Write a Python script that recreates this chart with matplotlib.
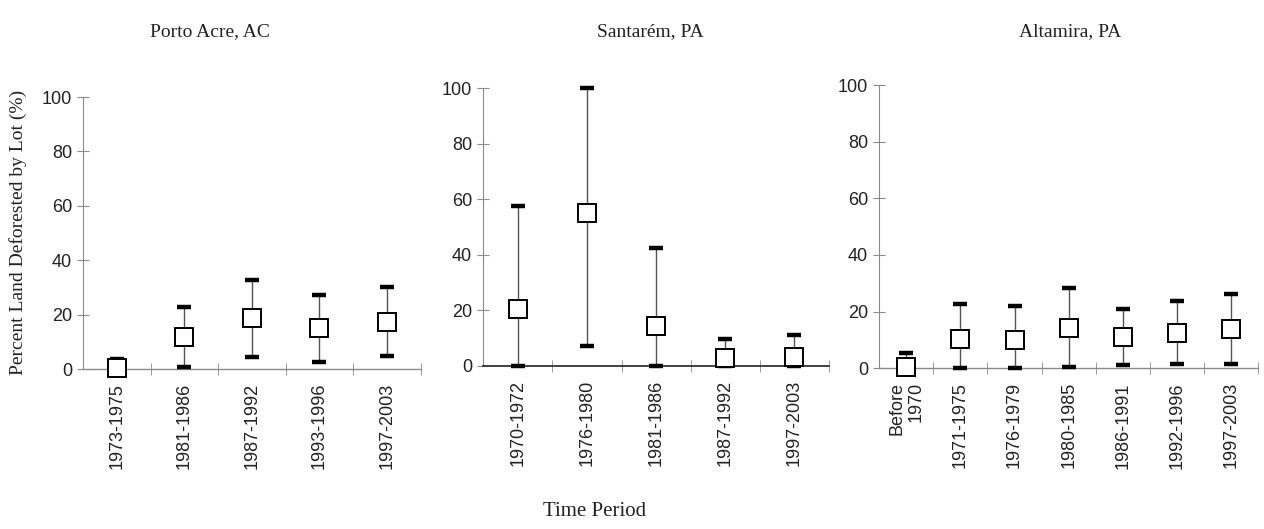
import matplotlib
matplotlib.use("Agg")
import matplotlib.pyplot as plt
import numpy as np

# ---- data ----
titles = ["Porto Acre, AC", "Santarém, PA", "Altamira, PA"]

porto_periods = ["1973-1975", "1981-1986", "1987-1992", "1993-1996", "1997-2003"]
porto_mean = [0.5, 11.8, 18.6, 15.0, 17.4]
porto_low = [0.0, 0.6, 4.5, 2.7, 4.9]
porto_high = [3.7, 22.8, 32.7, 27.2, 30.1]

santarem_periods = ["1970-1972", "1976-1980", "1981-1986", "1987-1992", "1997-2003"]
santarem_mean = [20.6, 55.0, 14.4, 3.0, 3.3]
santarem_low = [0.0, 7.3, 0.0, 0.0, 0.0]
santarem_high = [57.6, 100.0, 42.4, 9.6, 11.2]

altamira_periods = ["Before\n1970", "1971-1975", "1976-1979", "1980-1985", "1986-1991", "1992-1996", "1997-2003"]
altamira_mean = [0.5, 10.2, 10.0, 14.3, 11.0, 12.3, 13.8]
altamira_low = [0.0, 0.0, 0.0, 0.4, 1.2, 1.4, 1.4]
altamira_high = [5.3, 22.6, 22.1, 28.5, 20.8, 23.8, 26.2]

yticks = [0, 20, 40, 60, 80, 100]

panels = [
    (porto_periods, porto_mean, porto_low, porto_high),
    (santarem_periods, santarem_mean, santarem_low, santarem_high),
    (altamira_periods, altamira_mean, altamira_low, altamira_high),
]

W, H = 1264, 529
fig = plt.figure(figsize=(W / 100, H / 100), dpi=100)

# axes rectangles in pixels: left, right, y0 (value 0), y100 (value 100)
rects = [(83, 420.5, 369, 97), (483.3, 829, 366, 88.3), (879.3, 1258, 368.3, 85)]
title_x = [210, 650, 1070]

sans = "Liberation Sans"
serif = "Liberation Serif"
axis_grey = "#8a8a8a"

for i, ((periods, mean, low, high), (l, r, y0, y1)) in enumerate(zip(panels, rects)):
    ax = fig.add_axes([l / W, 1 - y0 / H, (r - l) / W, (y0 - y1) / H])
    n = len(periods)
    x = np.arange(n)
    mean = np.array(mean)
    yerr = [mean - np.array(low), np.array(high) - mean]
    ax.errorbar(x, mean, yerr=yerr, fmt="none", ecolor="#555555", elinewidth=1.0,
                capsize=0, zorder=2, clip_on=False)
    # thick black caps
    ax.plot(x, high, linestyle="none", marker="_", markersize=10, markeredgewidth=3.2,
            color="black", zorder=3, clip_on=False)
    ax.plot(x, low, linestyle="none", marker="_", markersize=10, markeredgewidth=3.2,
            color="black", zorder=3, clip_on=False)
    ax.plot(x, mean, linestyle="none", marker="s", markersize=13, markerfacecolor="white",
            markeredgecolor="black", markeredgewidth=1.4, zorder=4, clip_on=False)

    ax.set_xlim(-0.5, n - 0.5)
    ax.set_ylim(0, 100)
    for s in ["top", "right"]:
        ax.spines[s].set_visible(False)
    ax.spines["left"].set_color(axis_grey)
    ax.spines["bottom"].set_color("#333333" if i == 1 else axis_grey)
    ax.spines["bottom"].set_linewidth(1.3 if i == 1 else 1.0)
    ax.set_yticks(yticks)
    ax.set_yticklabels([str(t) for t in yticks], fontfamily=sans, fontsize=13, color="#222222")
    ax.tick_params(axis="y", direction="inout", length=8, color=axis_grey, pad=4)
    ax.set_xticks(x)
    ax.set_xticklabels(periods, rotation=90, fontfamily=sans, fontsize=13, color="#222222",
                       va="top", ha="center", multialignment="right")
    ax.tick_params(axis="x", which="major", length=0, pad=10)
    ax.set_xticks(np.arange(0.5, n, 1.0), minor=True)
    ax.tick_params(axis="x", which="minor", direction="inout", length=9, color=axis_grey)
    ax.patch.set_alpha(0)

    fig.text(title_x[i] / W, 1 - 32 / H, titles[i], ha="center", va="center",
             fontfamily=serif, fontsize=14, color="#222222")

fig.text(18 / W, 1 - 232 / H, "Percent Land Deforested by Lot (%)", rotation=90,
         ha="center", va="center", fontfamily=serif, fontsize=14, color="#222222")
fig.text(595 / W, 1 - 512 / H, "Time Period", ha="center", va="center",
         fontfamily=serif, fontsize=15, color="#222222")

fig.savefig("out.png", dpi=100)
